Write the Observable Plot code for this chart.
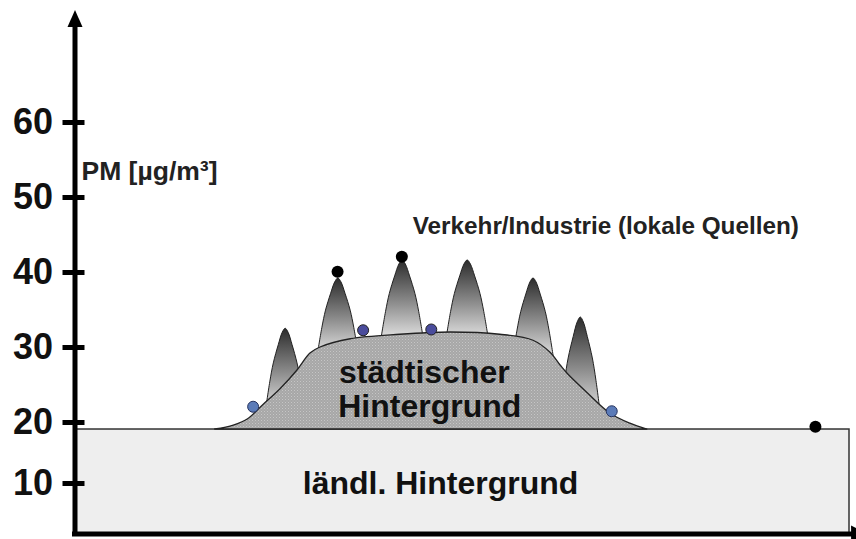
<!DOCTYPE html>
<html><head><meta charset="utf-8">
<script src="https://cdn.jsdelivr.net/npm/d3@7"></script>
<script src="https://cdn.jsdelivr.net/npm/@observablehq/plot@0.6"></script>
<style>html,body{margin:0;padding:0;background:#fff;} svg{display:block;}</style>
</head><body><div id="chart"></div>
<script>
// ---- data (schematic units: x = position along the transect 0..100, y = PM in µg/m³) ----
const yTicks = [10, 20, 30, 40, 50, 60];
const ruralLevel = 18.85;
const ruralX = [0, 100];

const humpX = [18.1, 20.5, 22.3, 24.3, 26.5, 28.7, 30.4, 31.7, 35.6, 42.0, 48.5, 54.9, 59.2, 61.4, 62.7, 63.6, 66.2, 69.1, 71.7, 73.9];
const humpY = [18.85, 19.5, 20.4, 22.3, 24.4, 26.9, 29.2, 30.0, 31.1, 31.7, 32.0, 31.7, 30.9, 29.3, 27.6, 26.5, 23.9, 21.2, 19.8, 18.85];

const peakCenter = [27.2, 34.0, 42.3, 50.7, 59.2, 65.3];
const peakTop = [32.5, 39.2, 41.6, 41.6, 39.2, 34.0];
const peakBase = [21.5, 29.0, 31.0, 31.0, 28.5, 21.0];
const peakHalfWidth = [2.55, 2.65, 2.75, 2.75, 2.65, 2.6];
// shared peak outline template: [relative x, relative height]
const peakProfile = [[-1, 0], [-0.78, 0.35], [-0.6, 0.58], [-0.35, 0.8], [-0.15, 0.95], [0, 1],
                     [0.15, 0.95], [0.35, 0.8], [0.6, 0.58], [0.78, 0.35], [1, 0]];

const blackDotX = [33.9, 42.2, 95.6];
const blackDotY = [40.1, 42.1, 19.3];
const edgeDotX = [23.0, 69.3];
const edgeDotY = [22.1, 21.5];
const topDotX = [37.2, 46.0];
const topDotY = [32.3, 32.4];

const labelText = ["PM [µg/m³]", "Verkehr/Industrie (lokale Quellen)"];
const labelX = [0.84, 43.6];
const labelY = [53.4, 46.2];
const areaText = ["städtischer", "Hintergrund", "ländl. Hintergrund"];
const areaX = [45.1, 45.8, 47.2];
const areaY = [26.6, 22.1, 10.0];

const axisTop = 75;
const xArrowTip = 102.4;

// the drawn axis is not evenly spaced below 20 (10 sits closer to 20): piecewise axis breaks
const axisBreaks = [0, 10, 20, axisTop];
const axisStops = [5.133, 11.867, 20, axisTop];
const yWarp = d3.scaleLinear().domain(axisBreaks).range(axisStops);

// ---- tables built from the arrays ----
const peaks = [];
peakCenter.forEach((c, i) => {
  peakProfile.forEach(([rx, rh]) => {
    peaks.push({peak: i, x: c + rx * peakHalfWidth[i], y1: peakBase[i], y2: peakBase[i] + rh * (peakTop[i] - peakBase[i])});
  });
});
const hump = humpX.map((x, i) => ({x, y: humpY[i], y0: ruralLevel}));
const blackDots = blackDotX.map((x, i) => ({x, y: blackDotY[i]}));
const edgeDots = edgeDotX.map((x, i) => ({x, y: edgeDotY[i]}));
const topDots = topDotX.map((x, i) => ({x, y: topDotY[i]}));
const labels = labelText.map((t, i) => ({t, x: labelX[i], y: labelY[i]}));
const areaLabels = areaText.map((t, i) => ({t, x: areaX[i], y: areaY[i]}));

const arrowUp = {draw(ctx) { ctx.moveTo(0, 0); ctx.lineTo(-7.5, 17); ctx.lineTo(7.5, 17); ctx.closePath(); }};
const arrowRight = {draw(ctx) { ctx.moveTo(0, 0); ctx.lineTo(-17, -8.5); ctx.lineTo(-17, 8.5); ctx.closePath(); }};

const font = "'Liberation Sans', Arial, Helvetica, sans-serif";
// axis marks receive ticks in scale space, so hand them the warped tick values and label with the originals
const warpedTicks = yTicks.map(yWarp);
const tickLabel = (d) => String(Math.round(yWarp.invert(d)));

const svg = Plot.plot({
  width: 856,
  height: 539,
  marginLeft: 74.5,
  marginRight: 7,
  marginTop: 9.5,
  marginBottom: 5.5,
  style: {fontFamily: font, background: "#ffffff", color: "#000", overflow: "visible"},
  x: {domain: [0, 100], axis: null},
  y: {transform: yWarp, domain: [yWarp(0), yWarp(axisTop)], range: [533.5, 9.5]},
  marks: [
    Plot.rect([{x1: ruralX[0], x2: ruralX[1], y1: 0, y2: ruralLevel}],
      {x1: "x1", x2: "x2", y1: "y1", y2: "y2", fill: "#eeeeee", stroke: "#333", strokeWidth: 1.5}),
    Plot.areaY(peaks, {x: "x", y1: "y1", y2: "y2", z: "peak", curve: "catmull-rom",
      fill: "url(#peakGrad)", stroke: "#222", strokeWidth: 1}),
    Plot.areaY(hump, {x: "x", y1: "y0", y2: "y", curve: "catmull-rom",
      fill: "url(#stipple)", stroke: "#222", strokeWidth: 1.3}),
    Plot.dot(edgeDots, {x: "x", y: "y", r: 5.5, fill: "#5b7bb8", stroke: "#27345f", strokeWidth: 1}),
    Plot.dot(topDots, {x: "x", y: "y", r: 5.5, fill: "#4a4c9c", stroke: "#222", strokeWidth: 1}),
    Plot.dot(blackDots, {x: "x", y: "y", r: 6, fill: "#000", stroke: null}),
    // axes
    Plot.ruleX([0], {y1: 0, y2: axisTop - 2, stroke: "#000", strokeWidth: 5, strokeLinecap: "square"}),
    Plot.ruleY([0], {x1: 0, x2: 100.5, stroke: "#000", strokeWidth: 5, strokeLinecap: "square"}),
    Plot.dot([{x: 0, y: axisTop}], {x: "x", y: "y", symbol: arrowUp, fill: "#000", stroke: null}),
    Plot.dot([{x: xArrowTip, y: 0}], {x: "x", y: "y", symbol: arrowRight, fill: "#000", stroke: null}),
    Plot.axisY({ticks: warpedTicks, tickSize: 22, dx: 10, strokeWidth: 5, text: null, label: null, stroke: "#000"}),
    Plot.axisY({ticks: warpedTicks, tickFormat: tickLabel, tickSize: 0, tickPadding: 22, fontSize: 36, fontWeight: "bold", label: null, fill: "#111"}),
    // text
    Plot.text(labels, {x: "x", y: "y", text: "t", textAnchor: "start", fontSize: (d) => (d.t.startsWith("PM") ? 26.5 : 24.3), fontWeight: "bold", fill: "#222"}),
    Plot.text(areaLabels, {x: "x", y: "y", text: "t", textAnchor: "middle", fontSize: 32, fontWeight: "bold", fill: "#111"})
  ]
});

const defs = document.createElementNS("http://www.w3.org/2000/svg", "defs");
defs.innerHTML = `
  <linearGradient id="peakGrad" x1="0" y1="0" x2="0" y2="1">
    <stop offset="0" stop-color="#2c2c2c"/>
    <stop offset="0.55" stop-color="#8f8f8f"/>
    <stop offset="1" stop-color="#e4e4e4"/>
  </linearGradient>
  <pattern id="stipple" width="3" height="3" patternUnits="userSpaceOnUse">
    <rect width="3" height="3" fill="#a7a7a7"/>
    <rect width="1" height="1" fill="#c6c6c6"/>
    <rect x="1.5" y="1.5" width="1" height="1" fill="#bababa"/>
  </pattern>`;
svg.insertBefore(defs, svg.firstChild);
document.getElementById("chart").appendChild(svg);
</script>
</body></html>
